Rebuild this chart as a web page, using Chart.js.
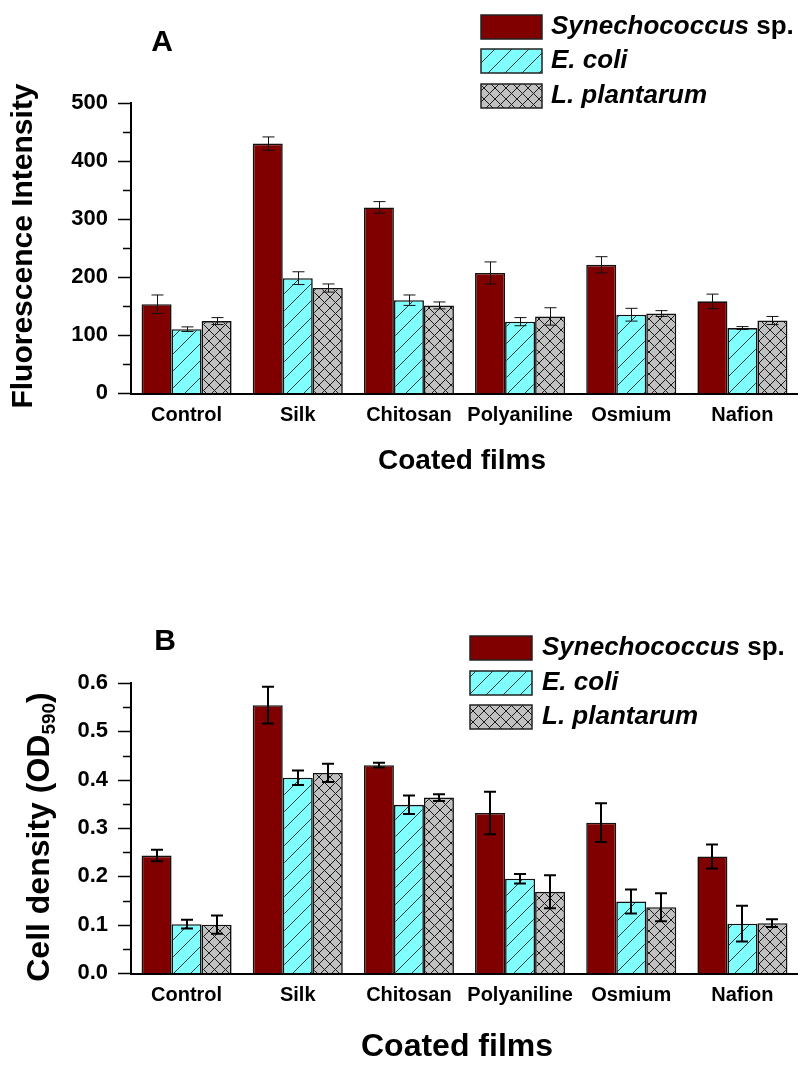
<!DOCTYPE html>
<html><head><meta charset="utf-8">
<script src="https://cdn.jsdelivr.net/npm/chart.js@4.4.0/dist/chart.umd.min.js"></script>
<style>
html,body{margin:0;padding:0;background:#fff;width:804px;height:1067px;overflow:hidden}
canvas{position:absolute;left:0}
#ca{top:0}
#cb{top:535px}
</style></head><body>
<canvas id="ca" width="804" height="535"></canvas>
<canvas id="cb" width="804" height="532"></canvas>
<script>
const categories = ['Control','Silk','Chitosan','Polyaniline','Osmium','Nafion'];
const seriesItalic = ['Synechococcus','E. coli','L. plantarum'];
const seriesSuffix = [' sp.','',''];
// Panel A: fluorescence intensity
const fluoSyn      = [153, 430, 320, 207, 221, 158];
const fluoSynErr   = [16, 11.5, 10, 19, 14, 12.5];
const fluoEcoli    = [110, 198, 160, 123, 135, 112];
const fluoEcoliErr = [4, 11, 9, 7, 11, 2.5];
const fluoLpl      = [124, 181, 151, 132, 137, 125];
const fluoLplErr   = [6, 7, 6, 15, 5, 7];
// Panel B: cell density OD590
const odSyn      = [0.243, 0.554, 0.430, 0.331, 0.311, 0.241];
const odSynErr   = [0.012, 0.038, 0.005, 0.044, 0.040, 0.025];
const odEcoli    = [0.101, 0.404, 0.348, 0.195, 0.148, 0.102];
const odEcoliErr = [0.009, 0.015, 0.019, 0.010, 0.025, 0.037];
const odLpl      = [0.100, 0.414, 0.363, 0.168, 0.136, 0.103];
const odLplErr   = [0.019, 0.019, 0.007, 0.034, 0.029, 0.008];
// axis ranges / ticks
const fluoMax = 500, fluoStep = 100, fluoMinor = 50;
const odMax = 0.6, odStep = 0.1, odMinor = 0.05;

const FONT = "'Liberation Sans', Arial, Helvetica, sans-serif";
const SYN_COLOR = '#800000';

function makeHatch(){
  const n = 17;
  const c = document.createElement('canvas'); c.width = n; c.height = n;
  const g = c.getContext('2d');
  g.fillStyle = '#80FFFF'; g.fillRect(0,0,n,n);
  g.strokeStyle = '#1a3a3a'; g.lineWidth = 1;
  g.beginPath();
  g.moveTo(-2,n+2); g.lineTo(n+2,-2);
  g.moveTo(-2,2); g.lineTo(2,-2);
  g.moveTo(n-2,n+2); g.lineTo(n+2,n-2);
  g.stroke();
  return g.createPattern(c,'repeat');
}
function makeCross(){
  const n = 11;
  const c = document.createElement('canvas'); c.width = n; c.height = n;
  const g = c.getContext('2d');
  g.fillStyle = '#C0C0C0'; g.fillRect(0,0,n,n);
  g.strokeStyle = '#1a1a1a'; g.lineWidth = 1;
  g.beginPath();
  g.moveTo(-1,n+1); g.lineTo(n+1,-1);
  g.moveTo(-1,-1); g.lineTo(n+1,n+1);
  g.stroke();
  return g.createPattern(c,'repeat');
}
const hatch = makeHatch();
const cross = makeCross();
const fills = [SYN_COLOR, hatch, cross];

const decoPlugin = {
  id: 'deco',
  afterDatasetsDraw(chart, args, o){
    const ctx = chart.ctx;
    const ys = chart.scales.y;
    ctx.save();
    ctx.strokeStyle = o.errColor; ctx.lineWidth = o.errWidth;
    chart.data.datasets.forEach((ds, i) => {
      const meta = chart.getDatasetMeta(i);
      meta.data.forEach((el, j) => {
        const v = ds.data[j], e = ds.errors[j];
        const x = Math.round(el.x) + (o.errWidth % 2 ? 0.5 : 0);
        const yt = ys.getPixelForValue(v + e), yb = ys.getPixelForValue(v - e);
        ctx.beginPath();
        ctx.moveTo(x, yt); ctx.lineTo(x, yb);
        ctx.moveTo(x - o.cap, yt); ctx.lineTo(x + o.cap, yt);
        ctx.moveTo(x - o.cap, yb); ctx.lineTo(x + o.cap, yb);
        ctx.stroke();
      });
    });
    ctx.restore();
  },
  afterDraw(chart, args, o){
    const ctx = chart.ctx;
    const ys = chart.scales.y;
    const left = chart.chartArea.left;
    ctx.save();
    // y ticks (major + minor)
    ctx.strokeStyle = '#000'; ctx.lineWidth = 1.5;
    for (let v = 0; v <= o.max + 1e-9; v += o.minor) {
      const y = Math.round(ys.getPixelForValue(v)) + 0.5;
      const major = Math.abs(v / o.step - Math.round(v / o.step)) < 1e-6;
      ctx.beginPath();
      ctx.moveTo(left - (major ? 13 : 8), y); ctx.lineTo(left, y);
      ctx.stroke();
    }
    // axis lines
    ctx.lineWidth = 2;
    ctx.beginPath();
    ctx.moveTo(left, ys.getPixelForValue(o.max) - 1);
    ctx.lineTo(left, chart.chartArea.bottom + 1);
    ctx.lineTo(chart.chartArea.right, chart.chartArea.bottom + 1);
    ctx.stroke();
    // panel letter
    ctx.fillStyle = '#000';
    ctx.font = 'bold 30px ' + FONT;
    ctx.textAlign = 'center'; ctx.textBaseline = 'middle';
    ctx.fillText(o.letter, o.letterX, o.letterY);
    // x title
    ctx.font = 'bold ' + o.xTitleSize + 'px ' + FONT;
    ctx.fillText('Coated films', o.xTitleX, o.xTitleY);
    // y title (rotated)
    ctx.save();
    ctx.translate(o.yTitleX, o.yTitleY);
    ctx.rotate(-Math.PI / 2);
    ctx.font = 'bold ' + o.yTitleSize + 'px ' + FONT;
    ctx.textBaseline = 'middle';
    if (o.sub) {
      const f1 = 'bold ' + o.yTitleSize + 'px ' + FONT;
      const f2 = 'bold ' + Math.round(o.yTitleSize * 0.6) + 'px ' + FONT;
      ctx.font = f1; const w1 = ctx.measureText(o.yTitle).width;
      ctx.font = f2; const w2 = ctx.measureText(o.sub).width;
      ctx.font = f1; const w3 = ctx.measureText(o.yTitleEnd).width;
      let x0 = -(w1 + w2 + w3) / 2;
      ctx.textAlign = 'left';
      ctx.font = f1; ctx.fillText(o.yTitle, x0, 0);
      ctx.font = f2; ctx.fillText(o.sub, x0 + w1, o.yTitleSize * 0.32);
      ctx.font = f1; ctx.fillText(o.yTitleEnd, x0 + w1 + w2, 0);
    } else {
      ctx.textAlign = 'center';
      ctx.fillText(o.yTitle, 0, 0);
    }
    ctx.restore();
    // legend
    chart.data.datasets.forEach((ds, i) => {
      const y = o.legY[i];
      ctx.fillStyle = ds.backgroundColor;
      ctx.fillRect(o.legX, y - o.legH / 2, o.legW, o.legH);
      ctx.strokeStyle = '#222'; ctx.lineWidth = 1.5;
      ctx.strokeRect(o.legX, y - o.legH / 2, o.legW, o.legH);
      ctx.fillStyle = '#000';
      ctx.textAlign = 'left'; ctx.textBaseline = 'middle';
      ctx.font = 'italic bold ' + o.legSize + 'px ' + FONT;
      ctx.fillText(seriesItalic[i], o.legTextX, y);
      const w = ctx.measureText(seriesItalic[i]).width;
      if (seriesSuffix[i]) {
        ctx.font = 'bold ' + o.legSize + 'px ' + FONT;
        ctx.fillText(seriesSuffix[i], o.legTextX + w, y);
      }
    });
    ctx.restore();
  }
};

function makeChart(id, data, errs, opts){
  const canvasH = opts.canvasH;
  return new Chart(document.getElementById(id), {
    type: 'bar',
    data: {
      labels: categories,
      datasets: data.map((d, i) => ({
        label: seriesItalic[i] + seriesSuffix[i],
        data: d,
        errors: errs[i],
        backgroundColor: fills[i],
        borderColor: '#111',
        borderWidth: 1.6,
        barPercentage: 1.0,
        categoryPercentage: 0.81
      }))
    },
    options: {
      responsive: false,
      animation: false,
      layout: { padding: { left: 0, right: 6, top: opts.top, bottom: 0 } },
      plugins: {
        legend: { display: false },
        tooltip: { enabled: false },
        deco: opts.deco
      },
      scales: {
        x: {
          grid: { display: false, drawTicks: false },
          border: { display: false },
          ticks: { color: '#000', padding: 10, font: { family: FONT, size: opts.xTickSize, weight: 'bold' }, maxRotation: 0, autoSkip: false },
          afterFit(s) { s.height = canvasH - opts.bottom; }
        },
        y: {
          min: 0, max: opts.max,
          grid: { display: false, drawTicks: false },
          border: { display: false },
          ticks: {
            stepSize: opts.step, color: '#000', padding: 23,
            font: { family: FONT, size: opts.yTickSize, weight: 'bold' },
            callback: opts.fmt
          },
          afterFit(s) { s.width = 131; }
        }
      }
    },
    plugins: [decoPlugin]
  });
}

makeChart('ca', [fluoSyn, fluoEcoli, fluoLpl], [fluoSynErr, fluoEcoliErr, fluoLplErr], {
  canvasH: 535, top: 103, bottom: 393, max: fluoMax, step: fluoStep,
  xTickSize: 20, yTickSize: 22,
  fmt: v => String(Math.round(v)),
  deco: {
    max: fluoMax, step: fluoStep, minor: fluoMinor,
    errColor: '#111', errWidth: 1, cap: 6,
    letter: 'A', letterX: 162, letterY: 43,
    xTitleSize: 28, xTitleX: 462, xTitleY: 461,
    yTitle: 'Fluorescence Intensity', yTitleSize: 30, yTitleX: 24, yTitleY: 246,
    legX: 481, legW: 61, legH: 24, legY: [27, 61, 96], legTextX: 551, legSize: 26
  }
});

makeChart('cb', [odSyn, odEcoli, odLpl], [odSynErr, odEcoliErr, odLplErr], {
  canvasH: 532, top: 148, bottom: 438, max: odMax, step: odStep,
  xTickSize: 20, yTickSize: 22,
  fmt: v => v.toFixed(1),
  deco: {
    max: odMax, step: odStep, minor: odMinor,
    errColor: '#000', errWidth: 2, cap: 6,
    letter: 'B', letterX: 165, letterY: 107,
    xTitleSize: 32, xTitleX: 457, xTitleY: 512,
    yTitle: 'Cell density (OD', sub: '590', yTitleEnd: ')', yTitleSize: 32, yTitleX: 40, yTitleY: 302,
    legX: 470, legW: 62, legH: 24, legY: [113, 148, 182], legTextX: 542, legSize: 26
  }
});
</script>
</body></html>
